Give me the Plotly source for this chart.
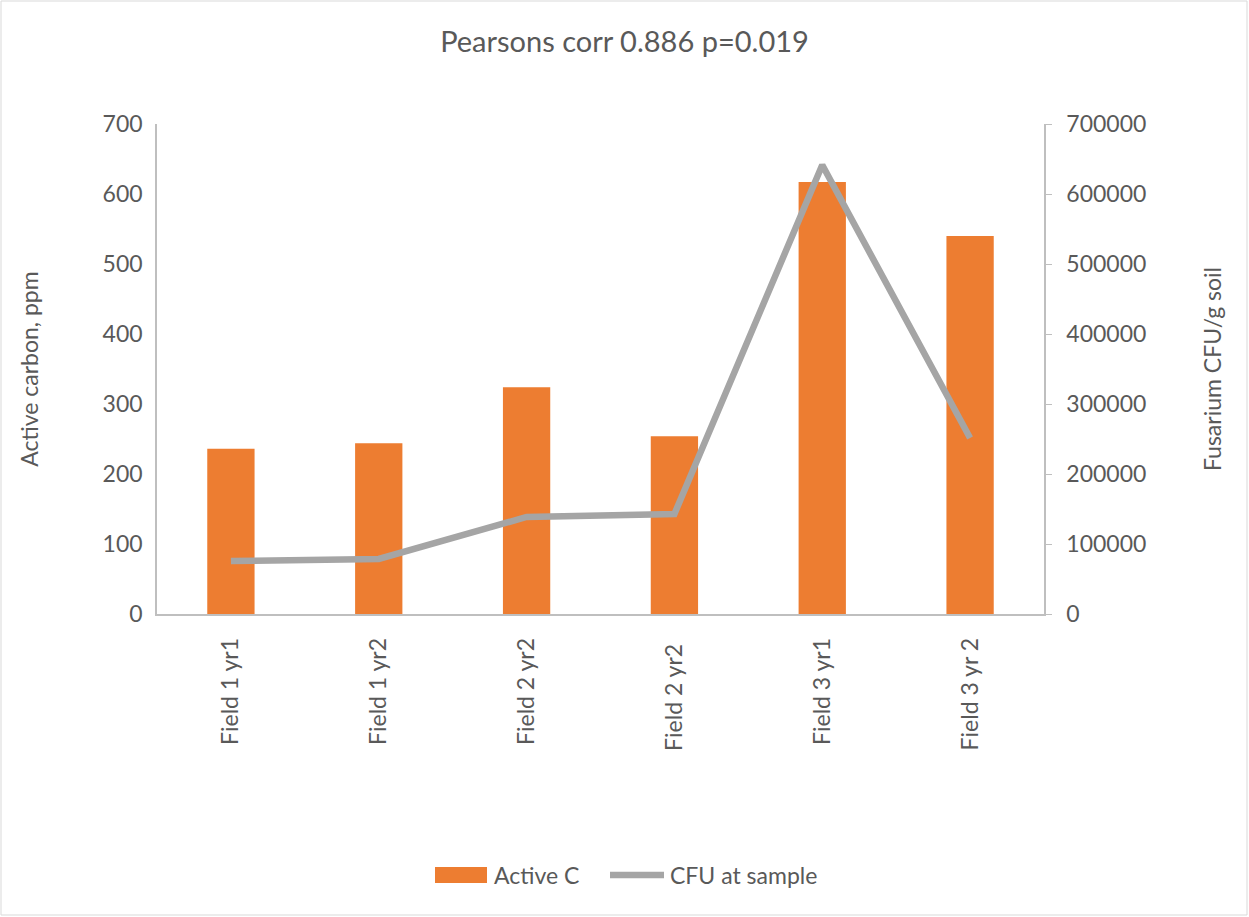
import plotly.graph_objects as go

categories = ["Field 1 yr1", "Field 1 yr2", "Field 2 yr2", "Field 2 yr2 ", "Field 3 yr1", "Field 3 yr 2"]
active_c = [236, 244, 324, 254, 617, 540]
cfu = [75700, 78600, 138600, 142900, 641400, 251400]
left_ticks = [0, 100, 200, 300, 400, 500, 600, 700]
right_ticks = [0, 100000, 200000, 300000, 400000, 500000, 600000, 700000]

FONT = "Lato, 'Open Sans', sans-serif"
GRAY_TXT = "#595959"
AX = "#BFBFBF"
BAR_C = "#ED7D31"
LINE_C = "#A5A5A5"
FS = 23

# plot area in pixels
L, R, T, B = 157, 1044, 124, 614
PW, PH = R - L, B - T


def px(x):
    return (x - L) / PW


def py(y):
    return (B - y) / PH


fig = go.Figure()
fig.add_trace(go.Bar(x=categories, y=active_c, name="Active C",
                     marker=dict(color=BAR_C, line=dict(width=0)), yaxis="y"))
fig.add_trace(go.Scatter(x=categories, y=cfu, name="CFU at sample", mode="lines",
                         line=dict(color=LINE_C, width=6.5), yaxis="y2"))

fig.update_layout(
    width=1249, height=917,
    margin=dict(l=L, r=1249 - R, t=T, b=917 - B),
    paper_bgcolor="white", plot_bgcolor="white",
    font=dict(family=FONT, color=GRAY_TXT, size=FS),
    title=dict(text="Pearsons corr 0.886 p=0.019", x=0.5, xanchor="center",
               y=1 - 42 / 917, yanchor="middle", font=dict(size=29, color=GRAY_TXT)),
    bargap=0.68,
    showlegend=False,
    xaxis=dict(tickangle=-90, showline=True, linecolor=AX, linewidth=1.5, ticks="",
               showgrid=False, tickfont=dict(size=FS, color=GRAY_TXT), ticklabelstandoff=13),
    yaxis=dict(range=[0, 700], tickvals=left_ticks, showgrid=False, zeroline=False,
               showline=True, linecolor=AX, linewidth=1.5, ticks="", ticklabelstandoff=8,
               title=dict(text="Active carbon, ppm", font=dict(size=FS, color=GRAY_TXT), standoff=58),
               tickfont=dict(size=FS, color=GRAY_TXT)),
    yaxis2=dict(range=[0, 700000], tickvals=right_ticks, overlaying="y", side="right",
                showgrid=False, zeroline=False, showline=True, linecolor=AX, linewidth=1.5,
                ticks="outside", ticklen=6, tickcolor=AX, tickformat="d", ticklabelstandoff=10,
                title=dict(text="Fusarium CFU/g soil", font=dict(size=FS, color=GRAY_TXT), standoff=60),
                tickfont=dict(size=FS, color=GRAY_TXT)),
)

# chart border
fig.add_shape(type="rect", xref="paper", yref="paper",
              x0=px(1), x1=px(1247), y0=py(915), y1=py(1),
              line=dict(color="#D9D9D9", width=1), layer="below")

# legend (drawn manually to match the wide swatches)
fig.add_shape(type="rect", xref="paper", yref="paper",
              x0=px(435), x1=px(487), y0=py(883), y1=py(867),
              fillcolor=BAR_C, line=dict(width=0))
fig.add_shape(type="line", xref="paper", yref="paper",
              x0=px(610), x1=px(664), y0=py(875), y1=py(875),
              line=dict(color=LINE_C, width=6.5))
fig.add_annotation(xref="paper", yref="paper", x=px(492), y=py(875), text="Active C",
                   showarrow=False, xanchor="left", yanchor="middle",
                   font=dict(size=FS, color=GRAY_TXT))
fig.add_annotation(xref="paper", yref="paper", x=px(668), y=py(875), text="CFU at sample",
                   showarrow=False, xanchor="left", yanchor="middle",
                   font=dict(size=FS, color=GRAY_TXT))

fig.write_html("out.html")
